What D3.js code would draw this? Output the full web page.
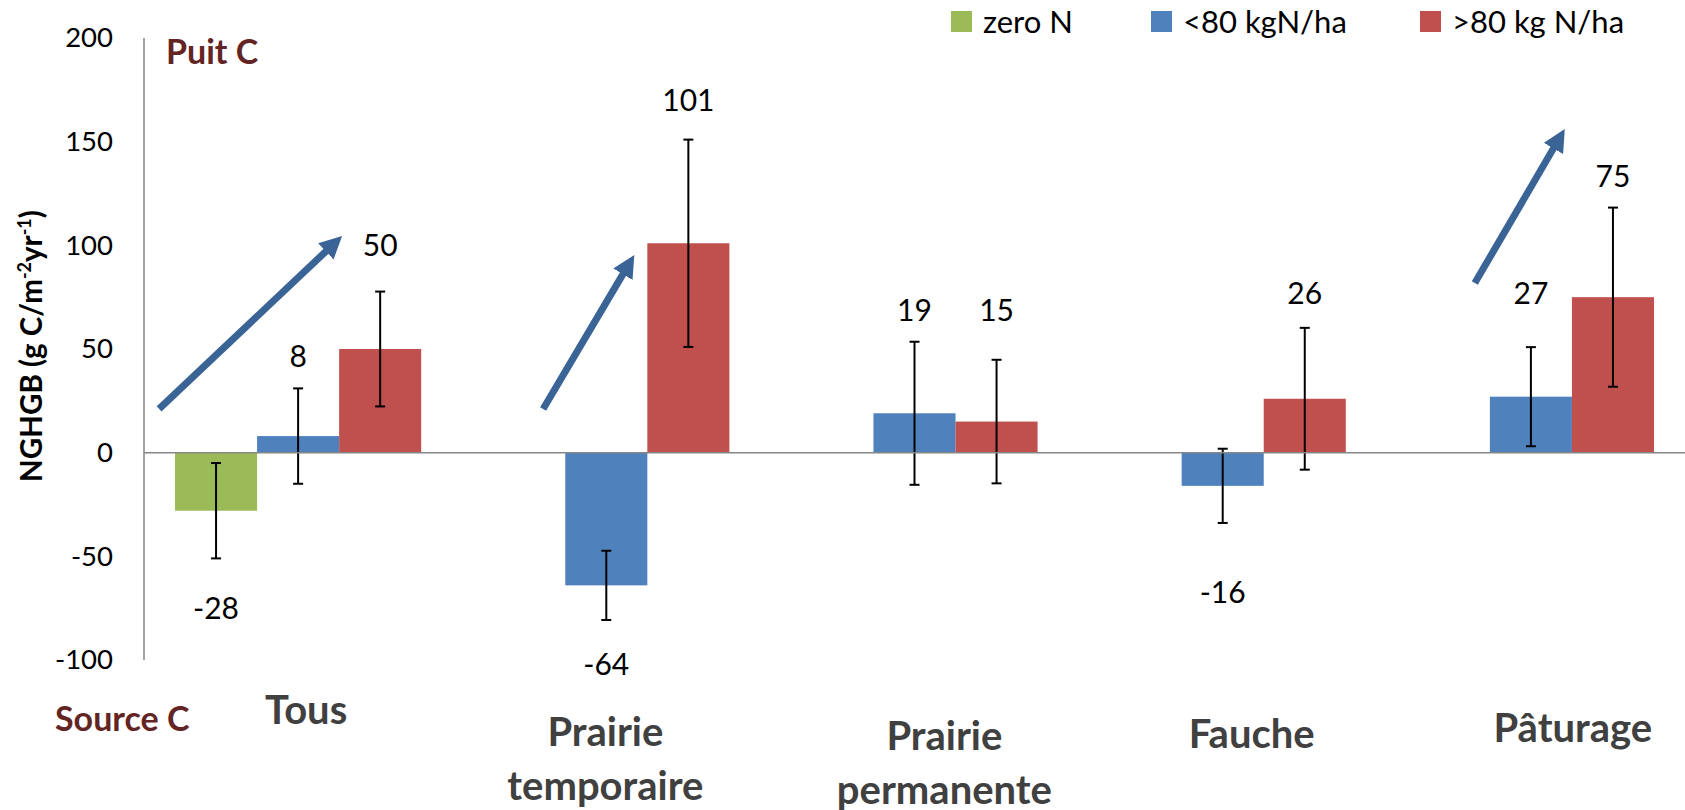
<!DOCTYPE html>
<html>

<head>
    <meta charset="utf-8">
    <title>NGHGB</title>
    <script src="https://cdnjs.cloudflare.com/ajax/libs/d3/7.8.5/d3.min.js"></script>
    <style>
        html,
        body {
            margin: 0;
            padding: 0;
            background-color: white;
            font-family: Lato, 'Open Sans', sans-serif;
        }

        #chart svg {
            display: block;
        }

        .tick text {
            font-size: 27.5px;
            fill: black;
        }

        .axis-line {
            stroke: #868686;
            stroke-width: 1.5;
        }

        .value-label {
            font-size: 30px;
            fill: black;
        }

        .cat-label {
            font-size: 40px;
            font-weight: bold;
            fill: #404040;
        }

        .side-label {
            font-size: 34px;
            font-weight: bold;
            fill: #632523;
        }

        .legend text {
            font-size: 31px;
            fill: black;
        }
    </style>
</head>

<body>
    <div id="chart"></div>

    <script>
        // values
        const categories = ["Tous", "Prairie temporaire", "Prairie permanente", "Fauche", "Pâturage"];
        const categoryLines = [["Tous"], ["Prairie", "temporaire"], ["Prairie", "permanente"], ["Fauche"], ["Pâturage"]];
        const seriesNames = ["zero N", "<80 kgN/ha", ">80 kg N/ha"];

        const zeroN = [-28, null, null, null, null];
        const below80 = [8, -64, 19, -16, 27];
        const above80 = [50, 101, 15, 26, 75];

        const zeroNErr = [23, null, null, null, null];
        const below80Err = [23, 16.7, 34.5, 17.9, 23.9];
        const above80Err = [27.7, 50, 29.8, 34.2, 43.2];

        // where the value labels sit, in chart units
        const zeroNLabelAt = [-74.5, null, null, null, null];
        const below80LabelAt = [47.1, -101.4, 69.3, -66.7, 77.5];
        const above80LabelAt = [100.6, 170.6, 69.3, 77.5, 133.9];

        const yTicks = [-100, -50, 0, 50, 100, 150, 200];

        // trend arrows: category, start / end as band fraction and chart value
        const arrows = [
            { cat: "Tous", f0: 0.049, v0: 21.1, f1: 0.643, v1: 104.5 },
            { cat: "Prairie temporaire", f0: 0.295, v0: 21.1, f1: 0.591, v1: 95.4 },
            { cat: "Pâturage", f0: 0.318, v0: 81.8, f1: 0.61, v1: 156.1 }
        ];

        // category text boxes (band fraction, baseline in chart units)
        const catLabelFrac = [0.526, 0.497, 0.597, 0.594, 0.636];
        const catLabelAt = [-130.9, -141.5, -143.4, -142.5, -139.5];

        const colors = ["#9BBB59", "#4F81BD", "#C0504D"];

        const width = 1685, height = 810;
        const plotLeft = 144, plotRight = 1685, plotTop = 38, plotBottom = 660;

        const svg = d3.select("#chart")
            .append("svg")
            .attr("width", width)
            .attr("height", height);

        const x = d3.scaleBand()
            .domain(categories)
            .range([plotLeft, plotRight]);

        const xSub = d3.scaleBand()
            .domain(seriesNames)
            .range([0, x.bandwidth()])
            .paddingInner(0)
            .paddingOuter(0.378);

        const y = d3.scaleLinear()
            .domain([-100, 200])
            .range([plotBottom, plotTop]);

        // y axis
        const yAxis = d3.axisLeft(y)
            .tickValues(yTicks)
            .tickSize(0)
            .tickPadding(31)
            .tickFormat(d => String(d));

        const yg = svg.append("g")
            .attr("transform", "translate(" + plotLeft + ",0)")
            .call(yAxis);
        yg.select(".domain").remove();
        yg.attr("font-family", null).attr("font-size", null);

        svg.append("line")
            .attr("class", "axis-line")
            .attr("x1", plotLeft).attr("x2", plotLeft)
            .attr("y1", y(200)).attr("y2", y(-100));

        const table = categories.map((c, i) => ({
            cat: c,
            bars: [
                { s: seriesNames[0], v: zeroN[i], e: zeroNErr[i], l: zeroNLabelAt[i], color: colors[0] },
                { s: seriesNames[1], v: below80[i], e: below80Err[i], l: below80LabelAt[i], color: colors[1] },
                { s: seriesNames[2], v: above80[i], e: above80Err[i], l: above80LabelAt[i], color: colors[2] }
            ].filter(b => b.v !== null)
        }));

        const groups = svg.selectAll(".group")
            .data(table)
            .enter()
            .append("g")
            .attr("class", "group")
            .attr("transform", d => "translate(" + x(d.cat) + ",0)");

        groups.selectAll("rect")
            .data(d => d.bars)
            .enter()
            .append("rect")
            .attr("x", d => xSub(d.s))
            .attr("width", xSub.bandwidth())
            .attr("y", d => y(Math.max(0, d.v)))
            .attr("height", d => Math.abs(y(d.v) - y(0)))
            .attr("fill", d => d.color);

        // zero line drawn over the bars
        svg.append("line")
            .attr("class", "axis-line")
            .attr("x1", plotLeft).attr("x2", plotRight)
            .attr("y1", y(0)).attr("y2", y(0));

        // error bars
        const err = groups.selectAll(".err")
            .data(d => d.bars.filter(b => b.e !== null))
            .enter()
            .append("g")
            .attr("class", "err")
            .attr("stroke", "black")
            .attr("stroke-width", 2);

        const cx = d => xSub(d.s) + xSub.bandwidth() / 2;

        err.append("line")
            .attr("x1", cx).attr("x2", cx)
            .attr("y1", d => y(d.v + d.e))
            .attr("y2", d => y(d.v - d.e));
        err.append("line")
            .attr("x1", d => cx(d) - 5).attr("x2", d => cx(d) + 5)
            .attr("y1", d => y(d.v + d.e)).attr("y2", d => y(d.v + d.e));
        err.append("line")
            .attr("x1", d => cx(d) - 5).attr("x2", d => cx(d) + 5)
            .attr("y1", d => y(d.v - d.e)).attr("y2", d => y(d.v - d.e));

        // value labels
        groups.selectAll(".value-label")
            .data(d => d.bars)
            .enter()
            .append("text")
            .attr("class", "value-label")
            .attr("x", cx)
            .attr("y", d => y(d.l))
            .attr("text-anchor", "middle")
            .attr("dominant-baseline", "central")
            .text(d => d.v);

        // arrows
        const defs = svg.append("defs");
        defs.append("marker")
            .attr("id", "head")
            .attr("viewBox", "0 0 10 10")
            .attr("refX", 2)
            .attr("refY", 5)
            .attr("markerWidth", 3.2)
            .attr("markerHeight", 3.2)
            .attr("orient", "auto")
            .append("path")
            .attr("d", "M0,0 L10,5 L0,10 Z")
            .attr("fill", "#3B6496");

        function arrowEnd(d) {
            const x0 = x(d.cat) + d.f0 * x.bandwidth(), x1 = x(d.cat) + d.f1 * x.bandwidth();
            const y0 = y(d.v0), y1 = y(d.v1);
            const len = Math.hypot(x1 - x0, y1 - y0);
            return [x1 - (x1 - x0) / len * 18, y1 - (y1 - y0) / len * 18];
        }

        svg.selectAll(".arrow")
            .data(arrows)
            .enter()
            .append("line")
            .attr("class", "arrow")
            .attr("x1", d => x(d.cat) + d.f0 * x.bandwidth())
            .attr("y1", d => y(d.v0))
            .attr("x2", d => arrowEnd(d)[0])
            .attr("y2", d => arrowEnd(d)[1])
            .attr("stroke", "#3B6496")
            .attr("stroke-width", 7)
            .attr("marker-end", "url(#head)");

        // category text boxes
        const catText = svg.selectAll(".cat-label")
            .data(categoryLines)
            .enter()
            .append("text")
            .attr("class", "cat-label")
            .attr("text-anchor", "middle")
            .attr("x", (d, i) => x(categories[i]) + catLabelFrac[i] * x.bandwidth())
            .attr("y", (d, i) => y(catLabelAt[i]));

        catText.selectAll("tspan")
            .data((d, i) => d.map(t => ({ t: t, i: i })))
            .enter()
            .append("tspan")
            .attr("x", d => x(categories[d.i]) + catLabelFrac[d.i] * x.bandwidth())
            .attr("dy", (d, j) => j === 0 ? 0 : 54)
            .text(d => d.t);

        svg.append("text")
            .attr("class", "side-label")
            .attr("x", 166)
            .attr("y", 64)
            .text("Puit C");

        svg.append("text")
            .attr("class", "side-label")
            .attr("x", 55)
            .attr("y", 731)
            .text("Source C");

        // y title
        const title = svg.append("text")
            .attr("transform", "translate(42,346) rotate(-90)")
            .attr("text-anchor", "middle")
            .attr("font-size", 29.5)
            .attr("font-weight", "bold")
            .attr("fill", "black");
        title.append("tspan").text("NGHGB (g C/m");
        title.append("tspan").attr("font-size", 18).attr("dy", -11).text("-2");
        title.append("tspan").attr("dy", 11).text("yr");
        title.append("tspan").attr("font-size", 18).attr("dy", -11).text("-1");
        title.append("tspan").attr("dy", 11).text(")");

        // legend
        const legendX = [951, 1151, 1420];
        const legend = svg.append("g").attr("class", "legend");
        const li = legend.selectAll("g")
            .data(seriesNames)
            .enter()
            .append("g")
            .attr("transform", (d, i) => "translate(" + legendX[i] + ",11)");
        li.append("rect")
            .attr("width", 21)
            .attr("height", 21)
            .attr("fill", (d, i) => colors[i]);
        li.append("text")
            .attr("x", 32)
            .attr("y", 22)
            .text(d => d);
    </script>
</body>

</html>
